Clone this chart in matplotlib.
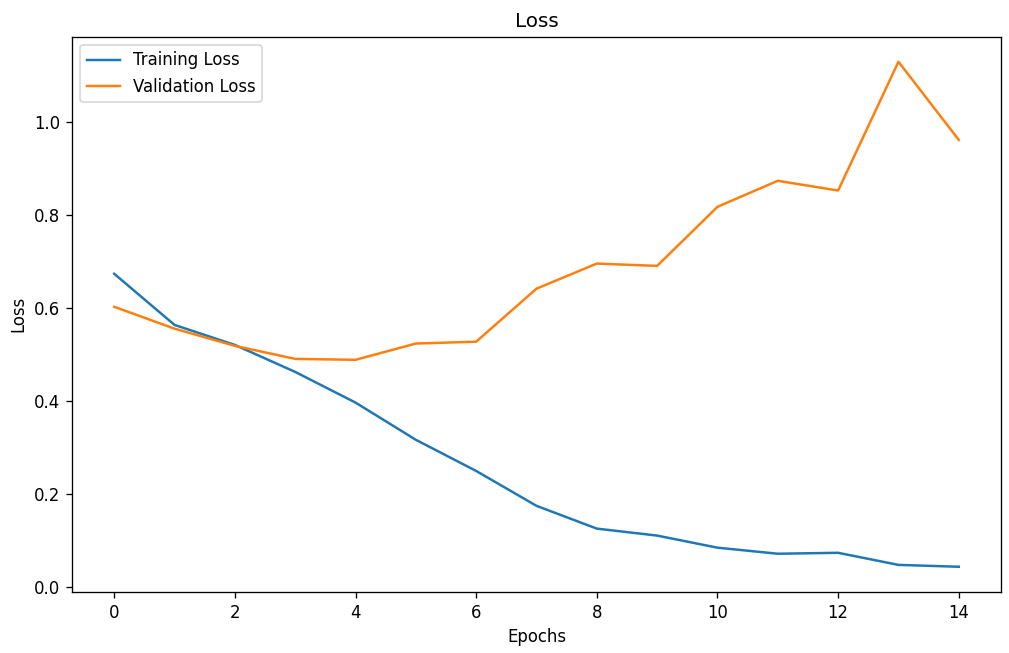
import matplotlib
matplotlib.use("Agg")
import matplotlib.pyplot as plt

epochs = list(range(15))
train_loss = [0.673, 0.563, 0.520, 0.462, 0.396, 0.316, 0.249, 0.174, 0.125, 0.110, 0.084, 0.071, 0.073, 0.047, 0.043]
val_loss = [0.602, 0.555, 0.518, 0.490, 0.488, 0.523, 0.527, 0.641, 0.695, 0.690, 0.817, 0.873, 0.852, 1.129, 0.961]

DPI = 119
fig, ax = plt.subplots(figsize=(1009 / DPI, 653 / DPI), dpi=DPI)
fig.subplots_adjust(left=72 / 1009, right=1001 / 1009, top=1 - 36.5 / 653, bottom=1 - 592 / 653)
ax.plot(epochs, train_loss, label="Training Loss")
ax.plot(epochs, val_loss, label="Validation Loss")
ax.set_title("Loss")
ax.set_xlabel("Epochs")
ax.set_ylabel("Loss")
ax.legend(loc="upper left")
fig.savefig("out.png", dpi=DPI)
